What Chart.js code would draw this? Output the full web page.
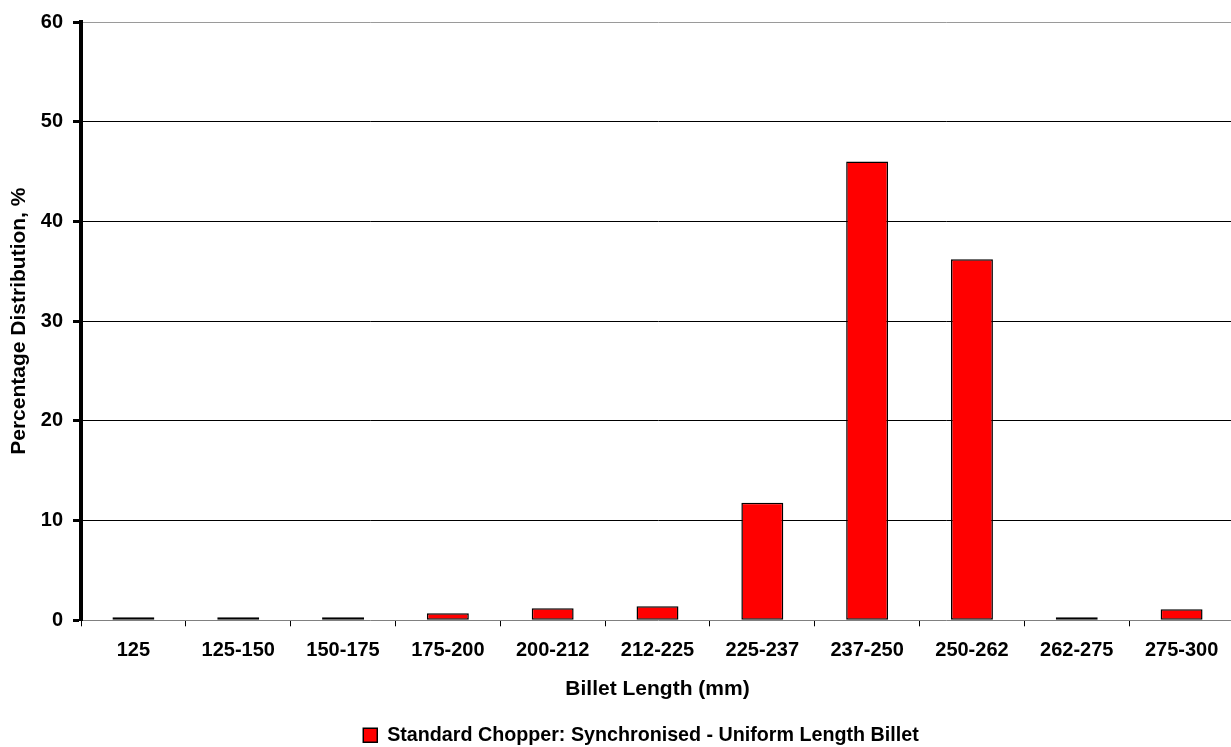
<!DOCTYPE html>
<html>
<head>
<meta charset="utf-8">
<script src="https://cdn.jsdelivr.net/npm/chart.js@4/dist/chart.umd.min.js"></script>
<style>
  html, body { margin: 0; padding: 0; background: #fff; overflow: hidden; }
  #wrap { width: 1231px; height: 747px; overflow: hidden; position: relative; }
  canvas { position: absolute; left: 0; top: 0; }
</style>
</head>
<body>
<div id="wrap"><canvas id="chart" width="1282" height="755"></canvas></div>
<script>
// Billet length classes (mm)
const categories = ['125', '125-150', '150-175', '175-200', '200-212', '212-225',
                    '225-237', '237-250', '250-262', '262-275', '275-300'];
// Share of billets in each length class, %
const distribution = [0.3, 0.3, 0.3, 0.7, 1.2, 1.4, 11.8, 46, 36.2, 0.3, 1.1];
const seriesName = 'Standard Chopper: Synchronised - Uniform Length Billet';
const yTicks = [0, 10, 20, 30, 40, 50, 60];

const FONT = 'Liberation Sans, Arial, Helvetica, sans-serif';

// Centre the legend on the full canvas width (ignoring the right layout padding)
const legendCentre = {
  id: 'legendCentre',
  afterLayout(chart) {
    const lg = chart.legend;
    if (!lg) return;
    const shift = chart.width / 2 - (lg.left + lg.right) / 2;
    lg.left += shift;
    lg.right += shift;
  }
};

new Chart(document.getElementById('chart'), {
  type: 'bar',
  data: {
    labels: categories,
    datasets: [{
      label: seriesName,
      data: distribution,
      backgroundColor: '#ff0000',
      borderColor: '#000000',
      borderWidth: 1.5,
      borderSkipped: false,
      barPercentage: 0.4,
      categoryPercentage: 1.0
    }]
  },
  plugins: [legendCentre],
  options: {
    responsive: false,
    animation: false,
    devicePixelRatio: 1,
    layout: { padding: { top: 17, right: 48, bottom: 0, left: 0 } },
    plugins: {
      tooltip: { enabled: false },
      legend: {
        position: 'bottom',
        labels: {
          color: '#000',
          font: { family: FONT, size: 19.7, weight: 'bold' },
          boxWidth: 14,
          boxHeight: 14,
          padding: 8
        }
      }
    },
    scales: {
      x: {
        grid: {
          display: true,
          drawOnChartArea: false,
          drawTicks: true,
          tickLength: 6,
          color: '#000',
          lineWidth: 1
        },
        border: { display: false },
        ticks: {
          color: '#000',
          padding: 12,
          maxRotation: 0,
          autoSkip: false,
          font: { family: FONT, size: 20, weight: 'bold' }
        },
        title: {
          display: true,
          text: 'Billet Length (mm)',
          color: '#000',
          font: { family: FONT, size: 21, weight: 'bold' },
          padding: { top: 0, bottom: 15.4 }
        },
        afterFit: (scale) => { scale.height = 97; }
      },
      y: {
        min: 0,
        max: 60,
        afterBuildTicks: (scale) => { scale.ticks = yTicks.map(v => ({ value: v })); },
        grid: {
          color: (ctx) => {
            if (ctx.tick && ctx.tick.value === 0) return '#808080';
            if (ctx.tick && ctx.tick.value === 60) return '#9a9a9a';
            return '#000';
          },
          lineWidth: 1,
          tickColor: '#000',
          tickWidth: 3,
          tickLength: 8
        },
        border: { display: true, color: '#000', width: 4 },
        ticks: {
          color: '#000',
          padding: 10,
          font: { family: FONT, size: 20, weight: 'bold' }
        },
        title: {
          display: true,
          text: 'Percentage Distribution, %',
          color: '#000',
          font: { family: FONT, size: 21, weight: 'bold' },
          padding: { top: 7, bottom: 0 }
        },
        afterFit: (scale) => { scale.width = 81; }
      }
    }
  }
});
</script>
</body>
</html>
